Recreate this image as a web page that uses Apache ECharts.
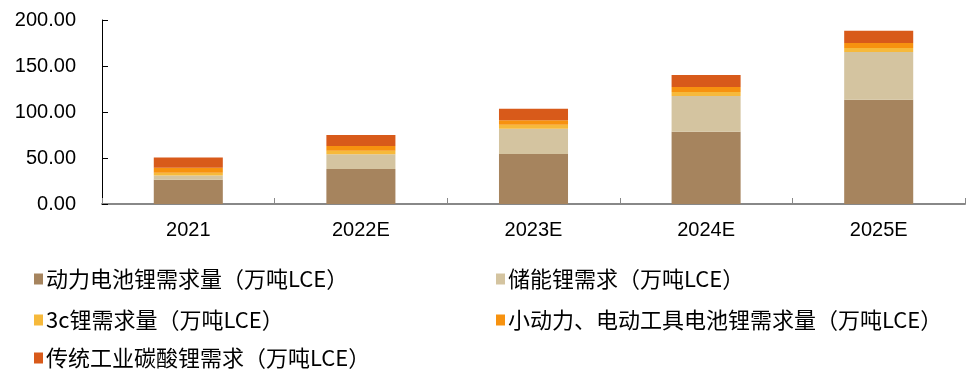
<!DOCTYPE html>
<html>
<head>
<meta charset="utf-8">
<script src="https://cdn.jsdelivr.net/npm/echarts@6/dist/echarts.min.js"></script>
<style>html,body{margin:0;padding:0;background:#fff;}#c{width:971px;height:369px;}</style>
</head>
<body>
<div id="c"></div>
<script>
const categories = ['2021', '2022E', '2023E', '2024E', '2025E'];
const seriesNames = ['动力电池锂需求量（万吨LCE）', '储能锂需求（万吨LCE）', '3c锂需求量（万吨LCE）', '小动力、电动工具电池锂需求量（万吨LCE）', '传统工业碳酸锂需求（万吨LCE）'];
const powerBattery = [26.4, 38.0, 54.3, 78.6, 113.4];
const energyStorage = [4.7, 16.0, 27.5, 38.8, 51.8];
const consumer3c = [2.9, 3.9, 4.3, 4.3, 4.3];
const smallPower = [5.4, 5.1, 4.8, 5.4, 5.4];
const traditional = [11.2, 12.0, 12.6, 13.0, 13.4];
const yTicks = [0, 50, 100, 150, 200];

const values = [powerBattery, energyStorage, consumer3c, smallPower, traditional];
const colors = ['#A6845E', '#D4C4A0', '#F6B93B', '#F7920F', '#D85A1A'];
const FONT = 'Liberation Sans, Arial, sans-serif';
const CJK = 'Noto Sans CJK SC, sans-serif';

const legendPos = [
  {left: 34, top: 268}, {left: 496, top: 268},
  {left: 34, top: 309}, {left: 496, top: 309},
  {left: 34, top: 347}
];

const chart = echarts.init(document.getElementById('c'), null, {renderer: 'canvas'});
chart.setOption({
  animation: false,
  color: colors,
  grid: {left: 102, right: 6, top: 20, bottom: 165, containLabel: false},
  legend: seriesNames.map((n, i) => ({
    data: [n],
    left: legendPos[i].left,
    top: legendPos[i].top,
    padding: 0,
    icon: 'rect',
    itemWidth: 9,
    itemHeight: 11,
    textStyle: {fontFamily: CJK, fontSize: 22, lineHeight: 20, color: '#000', padding: [0, 0, 0, -2]}
  })),
  xAxis: {
    type: 'category',
    data: categories,
    axisLine: {lineStyle: {color: '#888', width: 2}},
    axisTick: {show: true, inside: true, length: 6, lineStyle: {color: '#888'}},
    axisLabel: {fontFamily: FONT, fontSize: 20, color: '#000', margin: 16}
  },
  yAxis: {
    type: 'value',
    min: yTicks[0],
    max: yTicks[yTicks.length - 1],
    interval: 50,
    splitLine: {show: false},
    axisLine: {show: true, lineStyle: {color: '#000', width: 1}},
    axisTick: {show: true, inside: true, length: 6, lineStyle: {color: '#000'}},
    axisLabel: {fontFamily: FONT, fontSize: 20, color: '#000', margin: 26, formatter: v => v.toFixed(2)}
  },
  series: seriesNames.map((n, i) => ({
    name: n,
    type: 'bar',
    stack: 'total',
    barWidth: '40%',
    data: values[i],
    itemStyle: {color: colors[i]}
  }))
});
</script>
</body>
</html>
